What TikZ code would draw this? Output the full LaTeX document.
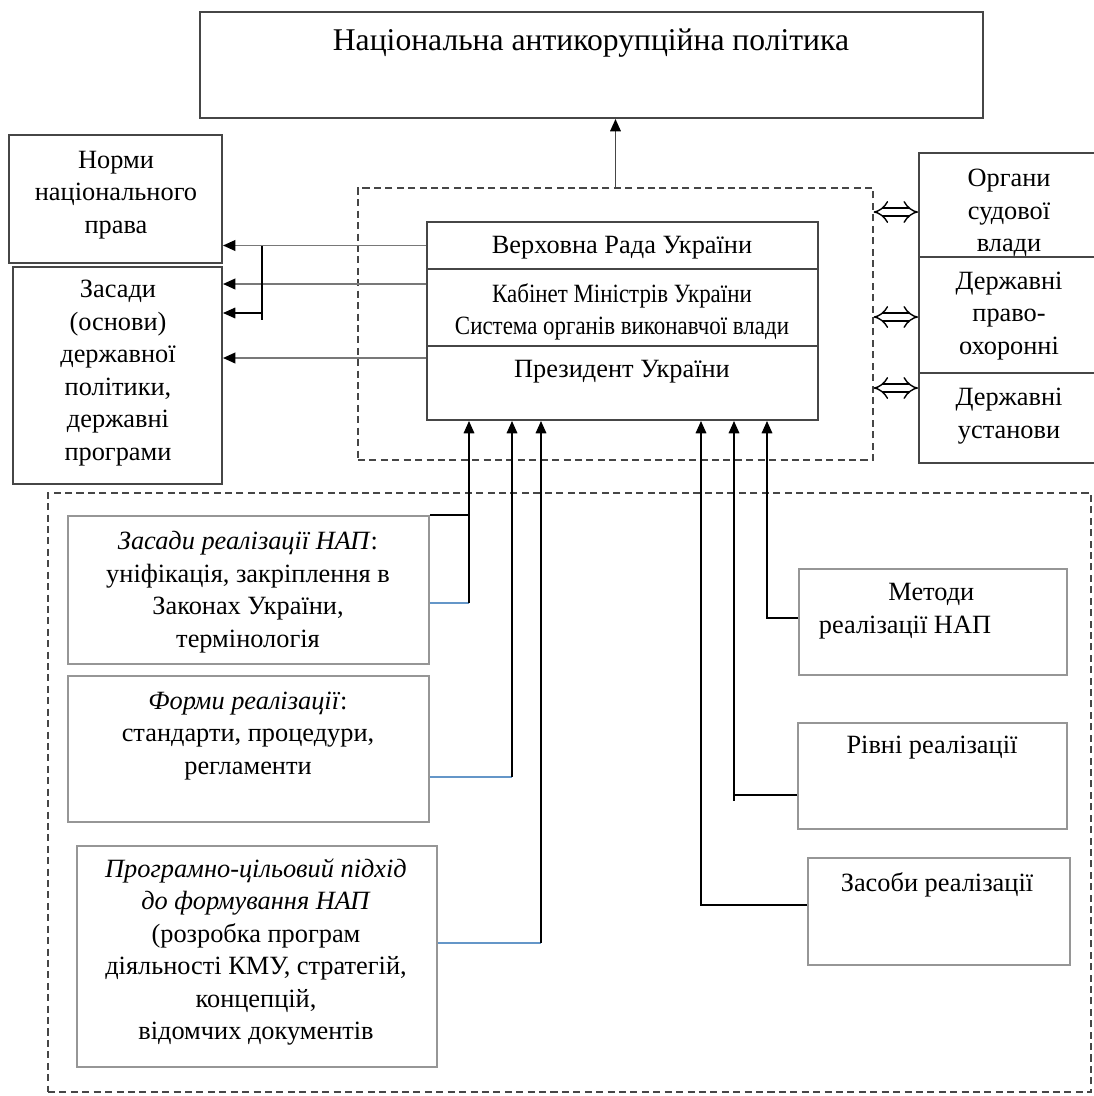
\documentclass[tikz,border=0pt]{standalone}
\usepackage{fontspec}
\setmainfont{Liberation Serif}
\usepackage{graphicx}
\usetikzlibrary{arrows.meta,fit}

\definecolor{framegrey}{RGB}{70,70,70}
\definecolor{softgrey}{RGB}{150,150,150}
\definecolor{linkblue}{RGB}{100,150,200}
\definecolor{arrowgrey}{RGB}{120,120,120}

\tikzset{
  box/.style={draw=framegrey, line width=1.1pt, inner sep=0pt},
  softbox/.style={draw=softgrey, line width=0.9pt, inner sep=0pt},
  dashbox/.style={draw=framegrey, dashed, dash pattern=on 4pt off 2.5pt, line width=0.7pt, inner sep=0pt},
  txt/.style={font=\fontsize{15}{18.5}\selectfont, align=center, inner sep=0pt},
  arr/.style={-{Triangle[length=7pt,width=6pt,color=black]}, line width=0.9pt},
  greyarr/.style={arr, draw=arrowgrey, line width=1.1pt},
  twoway/.style={{Implies}-{Implies}, double, double distance=3.6pt, line width=0.8pt},
  bluelink/.style={draw=linkblue, line width=0.8pt}
}

\begin{document}
\begin{tikzpicture}[x=0.02cm, y=-0.02cm]
    \useasboundingbox (0,0) rectangle (1094,1096);
    \clip (0,0) rectangle (1094,1096);

    \node[box, fit={(200,12) (983,118)}] (nap) {};
    \node[txt, font=\fontsize{18}{22}\selectfont] (naptxt) at (591,43) {Національна антикорупційна політика};

    \node[box, fit={(9,135) (222,263)}] (norms) {};
    \node[txt] (normstxt) at (116,195) {Норми\\національного\\права};
    \node[box, fit={(13,267) (222,484)}] (zasady) {};
    \node[txt] (zasadytxt) at (118,373) {Засади\\(основи)\\державної\\політики,\\державні\\програми};

    \node[dashbox, fit={(358,188) (873,460)}] (core) {};
    \node[box, fit={(427,222) (818,269)}] (vr) {};
    \node[box, fit={(427,269) (818,346)}] (km) {};
    \node[box, fit={(427,346) (818,420)}] (pr) {};
    \node[txt] (vrtxt) at (622,248) {Верховна Рада України};
    \node[txt] (kmtxt) at (622,312) {\scalebox{0.87}[1]{Кабінет Міністрів України}\\\scalebox{0.87}[1]{Система органів виконавчої влади}};
    \node[txt] (prtxt) at (622,372) {Президент України};

    \node[box, fit={(919,153) (1100,257)}] (sud) {};
    \node[box, fit={(919,257) (1100,373)}] (pravo) {};
    \node[box, fit={(919,373) (1100,463)}] (ustanovy) {};
    \node[txt] (sudtxt) at (1009,213) {Органи\\судової\\влади};
    \node[txt] (pravotxt) at (1009,316) {Державні\\право-\\охоронні};
    \node[txt] (ustanovytxt) at (1009,416) {Державні\\установи};

    \node[dashbox, fit={(48,493) (1091,1092)}] (tools) {};
    \node[softbox, fit={(68,516) (429,664)}] (zasa) {};
    \node[txt] (zasatxt) at (248,592) {\textit{Засади реалізації НАП}:\\уніфікація, закріплення в\\Законах України,\\термінологія};
    \node[softbox, fit={(68,676) (429,822)}] (formy) {};
    \node[txt] (formytxt) at (248,736) {\textit{Форми реалізації}:\\стандарти, процедури,\\регламенти};
    \node[softbox, fit={(77,846) (437,1067)}] (prog) {};
    \node[txt] (progtxt) at (256,952) {\textit{Програмно-цільовий підхід}\\\textit{до формування НАП}\\(розробка програм\\діяльності КМУ, стратегій,\\концепцій,\\відомчих документів};
    \node[softbox, fit={(799,569) (1067,675)}] (metody) {};
    \node[txt] (metodytxt) at (905,611) {\hspace*{2em}Методи\\реалізації НАП};
    \node[softbox, fit={(798,723) (1067,829)}] (rivni) {};
    \node[txt] (rivnitxt) at (932,748) {Рівні реалізації};
    \node[softbox, fit={(808,858) (1070,965)}] (zasoby) {};
    \node[txt] (zasobytxt) at (937,885) {Засоби реалізації};

    \draw[arr, draw=framegrey] (core.north) -- (core.north |- nap.south);

    \draw[greyarr] (vr.west) -- (vr.west -| norms.east);
    \draw[greyarr] (km.west |- 0,284) -- (zasady.east |- 0,284);
    \draw[greyarr] (pr.west |- 0,358) -- (zasady.east |- 0,358);
    \coordinate (fork) at (262,246);
    \draw[line width=0.9pt] (fork) -- (262,320);
    \draw[arr] (fork |- 0,313) -- (zasady.east |- 0,313);

    \draw[twoway] (core.east |- 0,212) -- (sud.west |- 0,212);
    \draw[twoway] (core.east |- 0,317) -- (pravo.west |- 0,317);
    \draw[twoway] (core.east |- 0,388) -- (ustanovy.west |- 0,388);

    \coordinate (ua) at (469,603);
    \coordinate (ub) at (512,777);
    \coordinate (uc) at (541,943);
    \coordinate (ud) at (701,905);
    \coordinate (ue) at (734,795);
    \coordinate (uf) at (767,618);
    \draw[bluelink] (zasa.east |- ua) -- (ua);
    \draw[line width=0.9pt] (zasa.north east) -- (zasa.north east -| ua);
    \draw[arr] (ua) -- (ua |- pr.south);
    \draw[bluelink] (formy.east |- ub) -- (ub);
    \draw[arr] (ub) -- (ub |- pr.south);
    \draw[bluelink] (prog.east |- uc) -- (uc);
    \draw[arr] (uc) -- (uc |- pr.south);
    \draw[arr] (zasoby.west |- ud) -- (ud) -- (ud |- pr.south);
    \draw[arr] (rivni.west |- ue) -- (ue) -- (ue |- pr.south);
    \draw[line width=0.9pt] (ue) -- ++(0,6);
    \draw[arr] (metody.west |- uf) -- (uf) -- (uf |- pr.south);
\end{tikzpicture}
\end{document}
